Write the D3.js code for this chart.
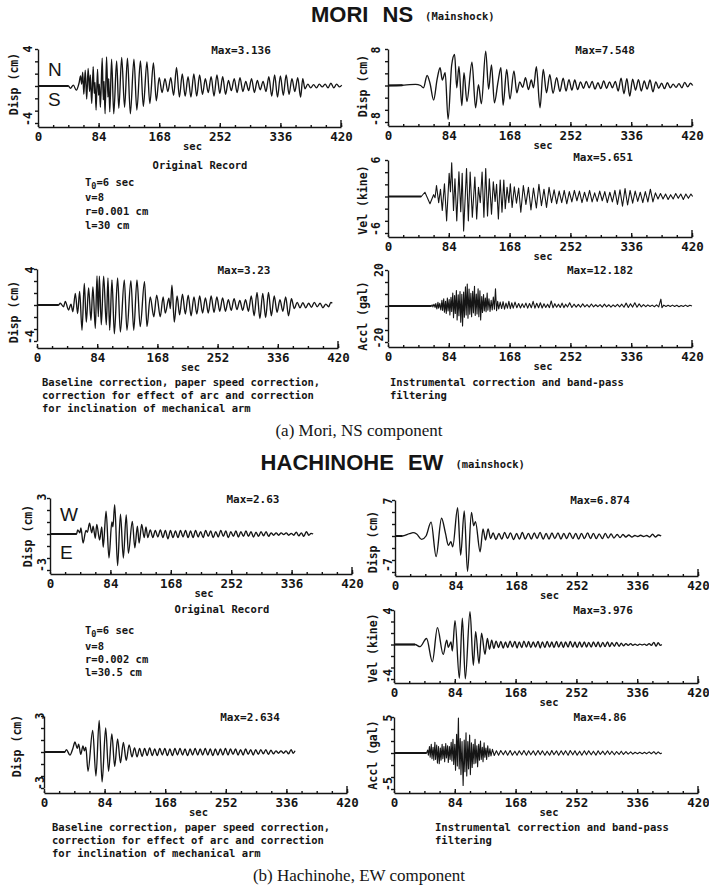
<!DOCTYPE html>
<html>
<head>
<meta charset="utf-8">
<script src="https://cdn.jsdelivr.net/npm/d3@7"></script>
<style>
  body { margin: 0; background: #fff; }
  svg text { fill: #151515; }
  .mono { font-family: "DejaVu Sans Mono", "Liberation Mono", monospace; font-weight: bold; }
  .ax path, .ax line { stroke: #151515; stroke-width: 1.4; }
  .ax text { font-family: "DejaVu Sans Mono", "Liberation Mono", monospace; font-weight: bold; font-size: 12.5px; fill: #151515; }
</style>
</head>
<body>
<svg id="chart" width="709" height="893"></svg>
<script>
// Time axis tick labels (seconds)
const timeTicks = [0, 84, 168, 252, 336, 420];

// ---- Mori, NS component: [time (s), value] extrema of each trace ----
const moriRawDisp = [[0,0],[42,0],[45,-0.25],[49,0.1],[53,-0.45],[57,0.35],[59,1.1],[60.5,0.2],[62,1.5],[63.5,-0.9],[65.5,1.7],[67.5,-1.4],[69.5,1.9],[71.5,-0.6],[72.5,1.2],[74.5,-1.9],[76.5,2.1],[78,-0.8],[79,0.4],[80.5,-2.6],[82.5,1.8],[84,-1.0],[85,0.2],[86.5,-2.3],[89,3.0],[90.5,-1.5],[91.5,0.5],[93,-3.0],[95,3.136],[97,-1.2],[98,0.8],[99.5,-2.8],[102,2.9],[105,-3.0],[109,2.7],[112,-2.4],[116,3.1],[120,-2.3],[124,3.0],[128,-3.0],[133,2.9],[137,-2.6],[142,2.7],[146,-2.2],[151,2.6],[155,-1.9],[160,2.5],[164,-1.6],[168,0.9],[172,-0.7],[176,0.8],[180,-0.6],[184,0.9],[188,-1.0],[192,2.0],[196,-1.2],[200,1.3],[204,-1.1],[208,1.0],[212,-1.2],[216,1.3],[220,-1.1],[224,1.2],[228,-0.9],[232,0.8],[236,-0.7],[240,1.0],[244,-1.1],[248,1.2],[252,-0.8],[256,1.0],[260,-0.9],[264,0.6],[268,-0.5],[272,0.8],[276,-0.7],[280,0.9],[284,-0.6],[288,0.5],[292,-0.5],[296,0.8],[300,-0.7],[304,0.6],[308,-0.4],[312,0.5],[316,-0.6],[320,1.0],[324,-1.1],[328,1.2],[332,-1.2],[336,1.1],[340,-1.0],[344,1.2],[348,-0.9],[352,0.8],[356,-0.6],[360,0.9],[364,-1.2],[367,0.8],[370,-0.3],[374,0.2],[378,-0.2],[382,0.15],[386,-0.2],[390,0.2],[394,-0.1],[398,0.2],[402,-0.2],[406,0.3],[410,-0.2],[414,0.2],[418,-0.1],[421,0.1]];

const moriCorrDisp = [[0,0],[20,0.05],[30,0.2],[38,0.25],[45,0],[49,-0.5],[54,2.2],[58,0.5],[63,-3.2],[68,1.5],[72,3.9],[75,1.2],[79,2.8],[83,-7.4],[88,4.5],[92,6.8],[95,-0.5],[98,4.2],[102,-4.4],[105,2.8],[109,-3.5],[116,5.1],[121,-4.9],[125,0.2],[129,-4.0],[135,7.548],[139,-0.8],[143,4.5],[147,-3.8],[152,0.8],[156,3.9],[159,-4.3],[164,3.5],[168.5,-3.0],[174,3.2],[178,-1.6],[182,0.8],[186,-0.4],[190,1.7],[194,-0.9],[198,1.2],[201,-0.5],[205,4.1],[210,-4.9],[214.5,3.5],[219,-1.6],[223.5,2.4],[228,-1.7],[233,1.7],[237.5,-1.3],[242,1.6],[246,-1.2],[250,1.3],[254,-1.0],[258,1.2],[262,-0.9],[266,0.8],[270,-0.6],[274,0.9],[278,-0.5],[282,0.9],[286,-0.8],[290,0.6],[294,-0.7],[298,1.0],[302,-0.6],[306,0.8],[310,-0.5],[314,0.9],[318,-1.2],[322,1.6],[326,-1.8],[330,1.5],[334,-2.3],[338,1.4],[342,-1.0],[346,1.3],[350,-1.2],[354,1.0],[358,-0.8],[362,1.2],[366,-1.4],[370,0.8],[374,-0.6],[378,0.5],[382,-0.7],[386,0.6],[390,-0.5],[394,0.3],[398,-0.4],[402,0.4],[406,-0.5],[410,0.7],[414,-0.3],[418,0.5],[421,0]];

const moriVel = [[0,0],[46,0],[51,0.7],[58,-1.2],[63,0.3],[65,-0.2],[67,1.8],[70,-1.0],[72.5,1.2],[75,-2.3],[78,2.1],[81,-4.0],[84.5,3.8],[86.3,0.8],[88,5.55],[90.5,-2.3],[92.5,2.9],[95,-4.0],[98,4.05],[100.5,-2.5],[102.5,3.8],[104.5,-5.651],[108.5,4.6],[111,-4.0],[113.5,4.0],[116.5,-3.4],[120,3.2],[122.5,-3.7],[125,1.5],[127.5,-1.0],[130,4.0],[132.5,-3.4],[135,4.6],[137.5,-3.2],[140,2.9],[143,-2.9],[145.5,2.4],[148,-0.8],[150,2.0],[152.5,-3.7],[155,2.7],[157.5,-2.6],[160,2.7],[162,-2.0],[164.5,1.5],[167,-1.0],[169,2.1],[171.5,-1.8],[174.5,1.6],[177.5,-1.1],[180.5,1.4],[183.5,-2.6],[187,1.8],[190.5,-1.3],[194,1.5],[197.5,-2.2],[201,1.4],[205,-1.9],[208.5,2.0],[212,-1.5],[215.5,1.2],[219,-1.8],[222.5,1.5],[226,-1.0],[229.5,1.1],[233,-1.2],[236.5,0.9],[240,-1.0],[243.5,1.0],[247,-1.2],[250.5,0.8],[254,-0.9],[257.5,1.0],[261,-0.7],[264.5,0.9],[268,-1.0],[271.5,0.7],[275,-0.8],[278.5,1.0],[282,-0.9],[285.5,0.6],[289,-0.8],[292.5,0.9],[296,-0.7],[299.5,0.8],[303,-1.0],[306.5,0.7],[310,-0.9],[313.5,1.0],[317,-1.3],[320.5,1.1],[324,-1.6],[327.5,1.3],[331,-1.4],[334.5,1.0],[338,-1.1],[341.5,0.9],[345,-0.8],[348.5,0.7],[352,-1.0],[355.5,0.8],[359,-0.9],[362.5,1.2],[366,-0.9],[369.5,0.6],[373,-0.4],[376.5,0.5],[380,-0.4],[383.5,0.4],[387,-0.5],[390.5,0.3],[394,-0.4],[397.5,0.5],[401,-0.3],[404.5,0.4],[408,-0.5],[411.5,0.4],[415,-0.3],[418.5,0.4],[421,0]];

const moriBaseDisp = [[0,0],[30,0],[32.5,0.2],[37,-0.2],[39.5,0.4],[44,-0.55],[47.4,0.1],[50,-0.75],[53.5,1.3],[56.7,-0.95],[59.5,1.5],[62.8,-2.8],[66,2.4],[68.8,-1.9],[72,1.9],[75.3,-1.7],[78,2.0],[81.4,-2.6],[83.7,3.23],[85.6,-1.3],[87,3.2],[89.7,-2.2],[93,3.2],[96.7,-2.2],[99,3.0],[101.4,-2.8],[104.6,2.8],[107.9,-3.2],[112.5,3.0],[116.3,-3.0],[121.8,2.8],[125.5,-2.8],[131,2.7],[135,-2.8],[139.5,2.8],[144,-2.4],[150,2.6],[153.5,-2.4],[158,0.9],[163,-1.3],[167,1.1],[172,-1.3],[176,0.9],[179,-0.9],[184,0.75],[186,-0.4],[188.3,2.2],[191.6,-1.9],[195.5,1.0],[199,-1.1],[203,1.2],[207,-1.0],[211,1.1],[215,-1.2],[219,0.9],[223,-1.0],[227,1.0],[231,-0.9],[235,0.8],[239,-0.9],[243,1.0],[247,-0.8],[251,0.9],[255,-0.7],[259,0.8],[263,-0.7],[267,0.6],[271,-0.6],[275,0.7],[279,-0.5],[283,0.5],[287,-0.6],[291,0.6],[295,-0.7],[299,1.0],[303,-1.2],[307,1.4],[311,-1.5],[315,1.3],[319,-1.4],[323,1.4],[327,-1.2],[331,1.0],[335,-0.8],[339,0.6],[343,-0.7],[347,0.9],[351,-1.2],[355,0.7],[359,-0.4],[363,0.3],[367,-0.3],[371,0.25],[375,-0.3],[379,0.2],[383,-0.25],[387,0.3],[391,-0.2],[395,0.2],[399,-0.3],[403,0.1],[407,-0.2],[410,0.3],[412,0.2]];

const moriAcc = [[0,0],[60,0],[61,0.6],[62,-0.5],[63.5,1.0],[65,-0.8],[66,1.4],[67.5,-1.6],[69,2.0],[70,-1.2],[71.5,1.5],[73,-2.2],[74.5,3.2],[75.5,-2.5],[77,4.0],[78,-3.5],[79.5,2.6],[80.5,-4.2],[82,4.4],[83,-2.8],[84.5,3.6],[85.5,-5.0],[87,4.8],[88,-3.0],[89.5,7.2],[90.5,-6.5],[92,5.8],[93,-4.2],[94.5,8.6],[95.5,-7.8],[97,6.2],[98,-5.4],[99.5,8.0],[100.5,-9.0],[102,6.5],[103,-11.1],[104.5,7.8],[105.5,-6.2],[107,10.6],[108,-5.0],[109.5,12.182],[110.5,-6.8],[112,9.4],[113,-4.6],[114.5,7.0],[115.5,-6.0],[117,8.2],[118,-3.8],[119.5,11.0],[120.5,-5.2],[122,6.6],[123,-4.4],[124.5,9.6],[125.5,-6.0],[127,8.4],[128,-7.8],[129.5,5.2],[130.5,-3.6],[132,6.4],[133,-2.8],[134.5,4.4],[135.5,-3.2],[137,7.2],[138,-2.4],[139.5,4.0],[141,-3.0],[142.5,3.2],[144,-2.2],[145.5,5.0],[147,-1.8],[148.5,9.6],[150,-2.6],[151.5,2.6],[153,-1.6],[155,2.2],[157,-1.4],[159,2.4],[161,-1.8],[163,1.6],[165,-1.2],[167,2.6],[169,-1.5],[171,1.8],[173,-1.2],[175.5,2.2],[178,-1.0],[180.5,1.4],[183,-1.1],[185.5,1.2],[188,-0.9],[190.5,1.6],[193,-1.2],[195.5,1.4],[198,-1.0],[200.5,2.6],[203,-1.2],[205.5,1.5],[208,-1.0],[210.5,1.8],[213,-1.1],[215.5,1.2],[218,-0.8],[220.5,1.0],[223,-0.9],[225.5,2.8],[228,-1.0],[230.5,1.3],[233,-0.7],[235.5,1.0],[238,-0.8],[240.5,1.6],[243,-0.9],[245.5,1.0],[248,-0.6],[251,1.8],[254,-0.8],[257,1.0],[260,-0.6],[263,0.9],[266,-0.7],[269,1.2],[272,-0.5],[275,0.8],[278,-0.6],[281,1.1],[284,-0.5],[287,0.7],[290,-0.4],[293,0.8],[296,-0.6],[299,1.0],[302,-0.5],[305,0.7],[308,-0.6],[311,0.6],[314,-0.4],[317,0.9],[320,-0.5],[323,1.0],[326,-0.7],[329,1.6],[332,-0.8],[335,1.2],[338,-0.6],[341,1.8],[344,-0.7],[347,1.2],[350,-0.5],[353,0.8],[356,-0.4],[359,0.6],[362,-0.3],[365,0.5],[368,-0.4],[371,0.6],[374,-0.5],[377,3.8],[378.5,-0.9],[381,0.5],[384,-0.3],[387,0.4],[390,-0.3],[393,0.5],[396,-0.3],[399,0.4],[402,-0.4],[405,0.3],[408,-0.3],[411,0.5],[414,-0.3],[417,0.4],[420,0]];

// ---- Hachinohe, EW component ----
const hachiRawDisp = [[0,0],[37,0],[38.5,0.35],[41.5,0.1],[43,0.5],[46,-0.75],[50,0.3],[52,0.15],[55,0.9],[58,0.1],[60,0.65],[63,-0.35],[65,0.8],[69,-0.5],[72,0.6],[74,-1.1],[78,1.9],[82,-2.0],[86,1.0],[87.5,0.6],[90,2.45],[94,-2.63],[98,1.65],[102,-2.0],[106,1.6],[109,-1.6],[114.5,1.05],[118,-1.15],[121.5,0.65],[124,-0.75],[127.5,0.8],[131,-0.3],[133.5,0.6],[136,-0.3],[139.5,0.35],[143,-0.3],[146.5,0.3],[150,-0.25],[153.5,0.35],[157,-0.3],[160.5,0.3],[164,-0.4],[167.5,0.3],[171,-0.3],[174.5,0.25],[178,-0.3],[181.5,0.3],[185,-0.25],[188.5,0.3],[192,-0.3],[195.5,0.25],[199,-0.3],[202.5,0.3],[206,-0.25],[209.5,0.2],[213,-0.3],[216.5,0.3],[220,-0.2],[223.5,0.25],[227,-0.3],[230.5,0.2],[234,-0.25],[237.5,0.3],[241,-0.2],[244.5,0.25],[248,-0.3],[251.5,0.2],[255,-0.2],[258.5,0.25],[262,-0.25],[265.5,0.2],[269,-0.2],[272.5,0.25],[276,-0.2],[279.5,0.2],[283,-0.25],[286.5,0.15],[290,-0.2],[293.5,0.2],[297,-0.15],[300.5,0.2],[304,-0.2],[307.5,0.1],[311,-0.1],[314.5,0.1],[318,-0.1],[321.5,0.1],[325,-0.05],[328.5,0.1],[332,-0.1],[335.5,0.05],[339,-0.1],[342.5,0.15],[346,-0.15],[349.5,0.1],[353,-0.2],[356.5,0.2],[360,-0.1],[363,0.05],[366,0]];

const hachiCorrDisp = [[0,0],[10,0],[20,0.45],[25,0.65],[30,0.4],[37,-0.65],[43,0],[50,2.7],[57,-4.0],[64.5,3.45],[70,0.5],[74,-1.8],[77.5,-1.1],[80,-2.1],[86.8,5.5],[91,-3.7],[96,4.9],[100.5,-6.874],[106,4.6],[109,2.0],[111.5,2.8],[118,-3.06],[122,1.4],[125.5,-0.8],[129,1.4],[132.5,-0.5],[136,0.6],[140,-0.7],[144,0.5],[148,-0.6],[152,0.7],[156,-0.5],[160,0.6],[164.5,-0.7],[168.5,0.5],[172.5,-0.6],[176.5,0.7],[180.5,-0.6],[185,0.5],[189,-0.6],[193,0.6],[197,-0.5],[201,0.7],[205.5,-0.6],[209.5,0.5],[213.5,-0.6],[217.5,0.6],[221.5,-0.5],[226,0.6],[230,-0.6],[234,0.5],[238,-0.5],[242,0.6],[246.5,-0.5],[250.5,0.5],[254.5,-0.6],[258.5,0.5],[262.5,-0.5],[267,0.6],[271,-0.5],[275,0.5],[279,-0.5],[283,0.4],[287.5,-0.5],[291.5,0.5],[295.5,-0.4],[299.5,0.4],[303.5,-0.4],[308,0.3],[312,-0.3],[316,0.3],[320,-0.2],[324,0.2],[328.5,-0.2],[332.5,0.1],[336.5,-0.1],[340.5,0.15],[344.5,-0.1],[349,0.1],[353,-0.2],[357,0.35],[361,-0.2],[365,0.2],[369,0]];

const hachiVel = [[0,0],[29,0],[36,-0.25],[45,0.7],[53,-2.0],[60,1.95],[68,-1.15],[72.8,0.5],[75,-0.33],[78.7,0.3],[80.6,-0.75],[84.3,2.76],[90.3,-3.9],[94.4,3.05],[98.5,-3.976],[105,3.8],[109.6,-2.4],[112.8,1.5],[117.4,-2.2],[121,1.3],[125.7,-1.15],[129,0.7],[132,-0.55],[135,0.5],[138,-0.45],[141,0.4],[144.5,-0.35],[147.5,0.35],[151,-0.4],[154,0.3],[157,-0.35],[160.5,0.4],[163.5,-0.3],[167,0.35],[170,-0.4],[173,0.3],[176.5,-0.35],[179.5,0.4],[183,-0.3],[186,0.35],[189,-0.35],[192.5,0.3],[195.5,-0.3],[199,0.35],[202,-0.4],[205,0.3],[208.5,-0.35],[211.5,0.35],[215,-0.3],[218,0.3],[221,-0.35],[224.5,0.35],[227.5,-0.3],[231,0.3],[234,-0.35],[237,0.3],[240.5,-0.3],[243.5,0.35],[247,-0.3],[250,0.3],[253,-0.35],[256.5,0.3],[259.5,-0.3],[263,0.3],[266,-0.3],[269,0.25],[272.5,-0.3],[275.5,0.3],[279,-0.25],[282,0.3],[285,-0.3],[288.5,0.25],[291.5,-0.25],[295,0.3],[298,-0.25],[301,0.2],[304.5,-0.2],[307.5,0.25],[311,-0.2],[314,0.15],[317,-0.15],[320.5,0.1],[323.5,-0.1],[327,0.1],[330,-0.1],[333,0.05],[336.5,-0.1],[339.5,0.05],[343,-0.05],[346,0.05],[349,-0.1],[352.5,0.1],[355.5,-0.1],[359,0.25],[362,-0.2],[365,0.2],[368,-0.1],[370,0]];

const hachiAcc = [[0,0],[45,0],[46.5,0.4],[47.5,-0.3],[49,0.9],[50,-0.6],[51.5,1.2],[52.5,-0.8],[54,0.8],[55,-1.0],[56.5,1.5],[57.5,-0.9],[59,1.1],[60,-1.4],[61.5,0.9],[62.5,-1.5],[64,0.7],[65,-1.0],[66.5,1.2],[67.5,-0.8],[69,0.9],[70,-1.2],[71.5,1.3],[72.5,-0.7],[74,1.0],[75,-1.3],[76.5,0.9],[77.5,-0.9],[79,1.5],[80,-1.1],[81.5,1.9],[82.5,-1.6],[84,1.2],[85,-2.4],[86.5,2.6],[87.5,-1.8],[89,4.86],[90,-2.2],[91.5,2.0],[92.5,-3.0],[94,1.6],[95.5,-4.5],[97,1.8],[98,-2.6],[99.5,2.8],[100.5,-3.2],[102,1.6],[103,-2.2],[104.5,2.5],[105.5,-3.0],[107,1.4],[108,-2.0],[109.5,1.2],[110.5,-1.5],[112,1.9],[113,-1.4],[114.5,1.0],[115.5,-1.9],[117,1.2],[118,-1.0],[119.5,1.65],[120.5,-0.9],[122,0.8],[123,-1.2],[124.5,1.4],[125.5,-0.6],[127,0.7],[128,-0.9],[129.5,1.0],[131,-0.5],[132.5,0.6],[134,-0.4],[136,0.5],[138.5,-0.35],[141.5,0.3],[144.5,-0.3],[147.5,0.35],[151,-0.25],[154,0.3],[157,-0.3],[160.5,0.35],[163.5,-0.3],[167,0.25],[170,-0.3],[173,0.3],[176.5,-0.25],[179.5,0.35],[183,-0.3],[186,0.3],[189,-0.25],[192.5,0.3],[195.5,-0.3],[199,0.35],[202,-0.25],[205,0.3],[208.5,-0.3],[211.5,0.25],[215,-0.3],[218,0.35],[221,-0.25],[224.5,0.3],[227.5,-0.3],[231,0.3],[234,-0.25],[237,0.3],[240.5,-0.3],[243.5,0.35],[247,-0.25],[250,0.3],[253,-0.3],[256.5,0.25],[259.5,-0.3],[263,0.3],[266,-0.25],[269,0.3],[272.5,-0.25],[275.5,0.25],[279,-0.3],[282,0.3],[285,-0.2],[288.5,0.25],[291.5,-0.25],[295,0.3],[298,-0.2],[301,0.25],[304.5,-0.25],[307.5,0.2],[311,-0.2],[314,0.25],[317,-0.2],[320.5,0.2],[323.5,-0.15],[327,0.15],[330,-0.15],[333,0.1],[336.5,-0.1],[339.5,0.1],[343,-0.1],[346,0.1],[349,-0.1],[352.5,0.15],[355.5,-0.1],[359,0.2],[362,-0.15],[365,0.15],[368,-0.1],[370,0]];

const hachiBaseDisp = [[0,0],[29,0],[31,0.2],[36,-0.26],[40,0.3],[43,0.83],[46,0.3],[48,0.65],[51,-0.2],[54,0.5],[56,0.1],[58,0.4],[61,-1.6],[67.5,1.8],[72,-2.0],[76.5,2.634],[80.5,-2.5],[85.5,2.0],[89.5,-1.6],[94,1.5],[98,-1.2],[102,1.1],[106,-0.9],[110,0.8],[114,-0.7],[118,0.6],[122,-0.4],[125.5,0.35],[129,-0.4],[132.5,0.3],[136,-0.35],[139.5,0.3],[143,-0.3],[146.5,0.35],[150,-0.3],[153.5,0.25],[157,-0.3],[160.5,0.3],[164,-0.25],[167.5,0.3],[171,-0.3],[174.5,0.25],[178,-0.3],[181.5,0.3],[185,-0.25],[188.5,0.3],[192,-0.25],[195.5,0.25],[199,-0.3],[202.5,0.25],[206,-0.25],[209.5,0.3],[213,-0.25],[216.5,0.25],[220,-0.25],[223.5,0.3],[227,-0.25],[230.5,0.25],[234,-0.3],[237.5,0.25],[241,-0.25],[244.5,0.25],[248,-0.25],[251.5,0.3],[255,-0.25],[258.5,0.25],[262,-0.2],[265.5,0.25],[269,-0.25],[272.5,0.2],[276,-0.25],[279.5,0.25],[283,-0.2],[286.5,0.2],[290,-0.25],[293.5,0.2],[297,-0.2],[300.5,0.2],[304,-0.15],[307.5,0.2],[311,-0.2],[314.5,0.15],[318,-0.15],[321.5,0.1],[325,-0.1],[328.5,0.1],[332,-0.1],[335.5,0.1],[339,-0.15],[342.5,0.2],[345.5,-0.1],[348,0.1]];

// ---- Panel layout ----
const panels = [
  { data: moriRawDisp,   lim: 4,  x0: 38,  x1: 341, yt: 49,  yb: 123, ax: 127, lab: "Disp (cm)",  lx: 14,  ly: 84,  tl: 28,  tTop: 49,  tBot: 119, max: "Max=3.136",  mx: 241, my: 54 },
  { data: moriCorrDisp,  lim: 8,  x0: 388, x1: 692, yt: 49,  yb: 122, ax: 126, lab: "Disp (cm)",  lx: 363, ly: 86,  tl: 376, tTop: 50,  tBot: 119, max: "Max=7.548",  mx: 605, my: 54 },
  { data: moriVel,       lim: 6,  x0: 388, x1: 692, yt: 160, yb: 233, ax: 237, lab: "Vel (kine)", lx: 363, ly: 200, tl: 376, tTop: 160, tBot: 229, max: "Max=5.651",  mx: 603, my: 161, spiky: true },
  { data: moriBaseDisp,  lim: 4,  x0: 37,  x1: 338, yt: 269, yb: 341, ax: 348, lab: "Disp (cm)",  lx: 14,  ly: 312, tl: 30,  tTop: 270, tBot: 337, max: "Max=3.23",   mx: 244, my: 274 },
  { data: moriAcc,       lim: 20, x0: 388, x1: 692, yt: 270, yb: 342, ax: 347, lab: "Accl (gal)", lx: 363, ly: 316, tl: 379, tTop: 270, tBot: 338, max: "Max=12.182", mx: 600, my: 274, spiky: true },
  { data: hachiRawDisp,  lim: 3,  x0: 50,  x1: 352, yt: 498, yb: 570, ax: 574, lab: "Disp (cm)",  lx: 28,  ly: 536, tl: 42,  tTop: 497, tBot: 565, max: "Max=2.63",   mx: 253, my: 503 },
  { data: hachiCorrDisp, lim: 7,  x0: 395, x1: 698, yt: 500, yb: 572, ax: 576, lab: "Disp (cm)",  lx: 373, ly: 542, tl: 388, tTop: 501, tBot: 565, max: "Max=6.874",  mx: 600, my: 504 },
  { data: hachiVel,      lim: 4,  x0: 394, x1: 698, yt: 610, yb: 679, ax: 683, lab: "Vel (kine)", lx: 373, ly: 648, tl: 388, tTop: 611, tBot: 676, max: "Max=3.976",  mx: 603, my: 614 },
  { data: hachiAcc,      lim: 5,  x0: 394, x1: 698, yt: 717, yb: 789, ax: 793, lab: "Accl (gal)", lx: 373, ly: 755, tl: 388, tTop: 718, tBot: 784, max: "Max=4.86",   mx: 600, my: 721, spiky: true },
  { data: hachiBaseDisp, lim: 3,  x0: 44,  x1: 347, yt: 716, yb: 788, ax: 793, lab: "Disp (cm)",  lx: 17,  ly: 746, tl: 40,  tTop: 716, tBot: 783, max: "Max=2.634",  mx: 250, my: 721 }
];

const svg = d3.select("#chart");
const ink = "#151515";

function rotText(x, y, txt, size) {
  svg.append("text").attr("class", "mono")
    .attr("transform", `translate(${x},${y}) rotate(-90)`)
    .attr("text-anchor", "middle").attr("dominant-baseline", "central")
    .style("font-size", size + "px").text(txt);
}

function drawPanel(p) {
  const x = d3.scaleLinear().domain([0, 420]).range([p.x0, p.x1]);
  const y = d3.scaleLinear().domain([-p.lim, p.lim]).range([p.yb, p.yt]);
  const g = svg.append("g");

  // vertical amplitude axis
  const yTicks = d3.range(7).map(i => -p.lim + i * p.lim / 3);
  g.append("g").attr("class", "ax").attr("transform", `translate(${p.x0},0)`)
    .call(d3.axisLeft(y).tickValues(yTicks).tickSize(3).tickSizeOuter(0).tickFormat(""));

  // time axis, ticks pointing up
  const xa = g.append("g").attr("class", "ax").attr("transform", `translate(0,${p.ax})`);
  xa.call(d3.axisBottom(x).tickValues(timeTicks).tickSize(-4).tickSizeOuter(0).tickPadding(5).tickFormat(d3.format("d")));
  xa.append("g")
    .call(d3.axisBottom(x).tickValues(d3.range(0, 421, 21)).tickSize(-2).tickFormat(""))
    .select(".domain").remove();
  xa.append("line").attr("x1", x(420)).attr("x2", x(420)).attr("y1", 0).attr("y2", -7)
    .attr("stroke", ink).attr("stroke-width", 1.4);

  // trace
  const line = d3.line().x(d => x(d[0])).y(d => y(d[1]))
    .curve(p.spiky ? d3.curveLinear : d3.curveMonotoneX);
  g.append("path").datum(p.data).attr("d", line)
    .attr("fill", "none").attr("stroke", ink).attr("stroke-width", p.spiky ? 1.1 : 1.35)
    .attr("stroke-linejoin", "round");
  // quiet lead-in drawn heavier
  g.append("path").datum(p.data.slice(0, 2)).attr("d", d3.line().x(d => x(d[0])).y(d => y(d[1])))
    .attr("fill", "none").attr("stroke", ink).attr("stroke-width", 2);

  // labels
  rotText(p.lx, p.ly, p.lab, 11.5);
  rotText(p.tl, p.tTop, String(p.lim), 11.5);
  rotText(p.tl, p.tBot, String(-p.lim), 11.5);
  svg.append("text").attr("class", "mono").attr("x", p.mx).attr("y", p.my)
    .attr("text-anchor", "middle").style("font-size", "11px").text(p.max);
  svg.append("text").attr("class", "mono").attr("x", (p.x0 + p.x1) / 2 + 3).attr("y", p.ax + 23)
    .attr("text-anchor", "middle").style("font-size", "10.5px").text("sec");
}

panels.forEach(drawPanel);

// titles: bold station name, then the small "(mainshock)" tag
function title(cx, y, words, tag) {
  const t = svg.append("text").attr("x", cx).attr("y", y).attr("text-anchor", "middle")
    .style("font-family", "'Liberation Sans', Arial, sans-serif").style("font-weight", "bold")
    .style("font-size", "22px").style("word-spacing", "8px").text(words);
  const w = t.node().getComputedTextLength() + 8;
  svg.append("text").attr("class", "mono").attr("x", cx + w / 2 + 8).attr("y", y - 2)
    .style("font-size", "10.5px").text(tag);
}
title(362, 22, "MORI NS", "(Mainshock)");
title(352, 470, "HACHINOHE EW", "(mainshock)");

// direction letters
function bigLetter(x, y, t) {
  svg.append("text").attr("x", x).attr("y", y)
    .style("font-family", "'Liberation Sans', Arial, sans-serif").style("font-size", "19px").text(t);
}
bigLetter(48, 76, "N");
bigLetter(48, 106, "S");
bigLetter(60, 521, "W");
bigLetter(60, 559, "E");

// text blocks
function monoLines(x, ys, lines, anchor) {
  lines.forEach((t, i) => {
    svg.append("text").attr("class", "mono").attr("x", x).attr("y", ys[i])
      .attr("text-anchor", anchor || "start").style("font-size", "10.5px").text(t);
  });
}
monoLines(200, [169], ["Original Record"], "middle");
monoLines(222, [613], ["Original Record"], "middle");

function paramBlock(x, ys, r, l) {
  const t = svg.append("text").attr("class", "mono").attr("x", x).attr("y", ys[0]).style("font-size", "10.5px");
  t.append("tspan").text("T");
  t.append("tspan").attr("dy", 3).style("font-size", "8.5px").text("0");
  t.append("tspan").attr("dy", -3).text("=6 sec");
  monoLines(x, ys.slice(1), ["v=8", r, l]);
}
paramBlock(85, [186, 201, 215, 229], "r=0.001 cm", "l=30 cm");
paramBlock(85, [634, 650, 663, 676], "r=0.002 cm", "l=30.5 cm");

const baseText = ["Baseline correction, paper speed correction,",
                  "correction for effect of arc and correction",
                  "for inclination of mechanical arm"];
const instText = ["Instrumental correction and band-pass", "filtering"];
monoLines(42, [386, 399, 412], baseText);
monoLines(390, [386, 399], instText);
monoLines(52, [831, 844, 857], baseText);
monoLines(435, [831, 844], instText);

// figure captions
function caption(y, txt) {
  svg.append("text").attr("x", 359).attr("y", y).attr("text-anchor", "middle")
    .style("font-family", "'Liberation Serif', 'Times New Roman', serif").style("font-size", "17px").text(txt);
}
caption(436, "(a) Mori, NS component");
caption(881, "(b) Hachinohe, EW component");
</script>
</body>
</html>
